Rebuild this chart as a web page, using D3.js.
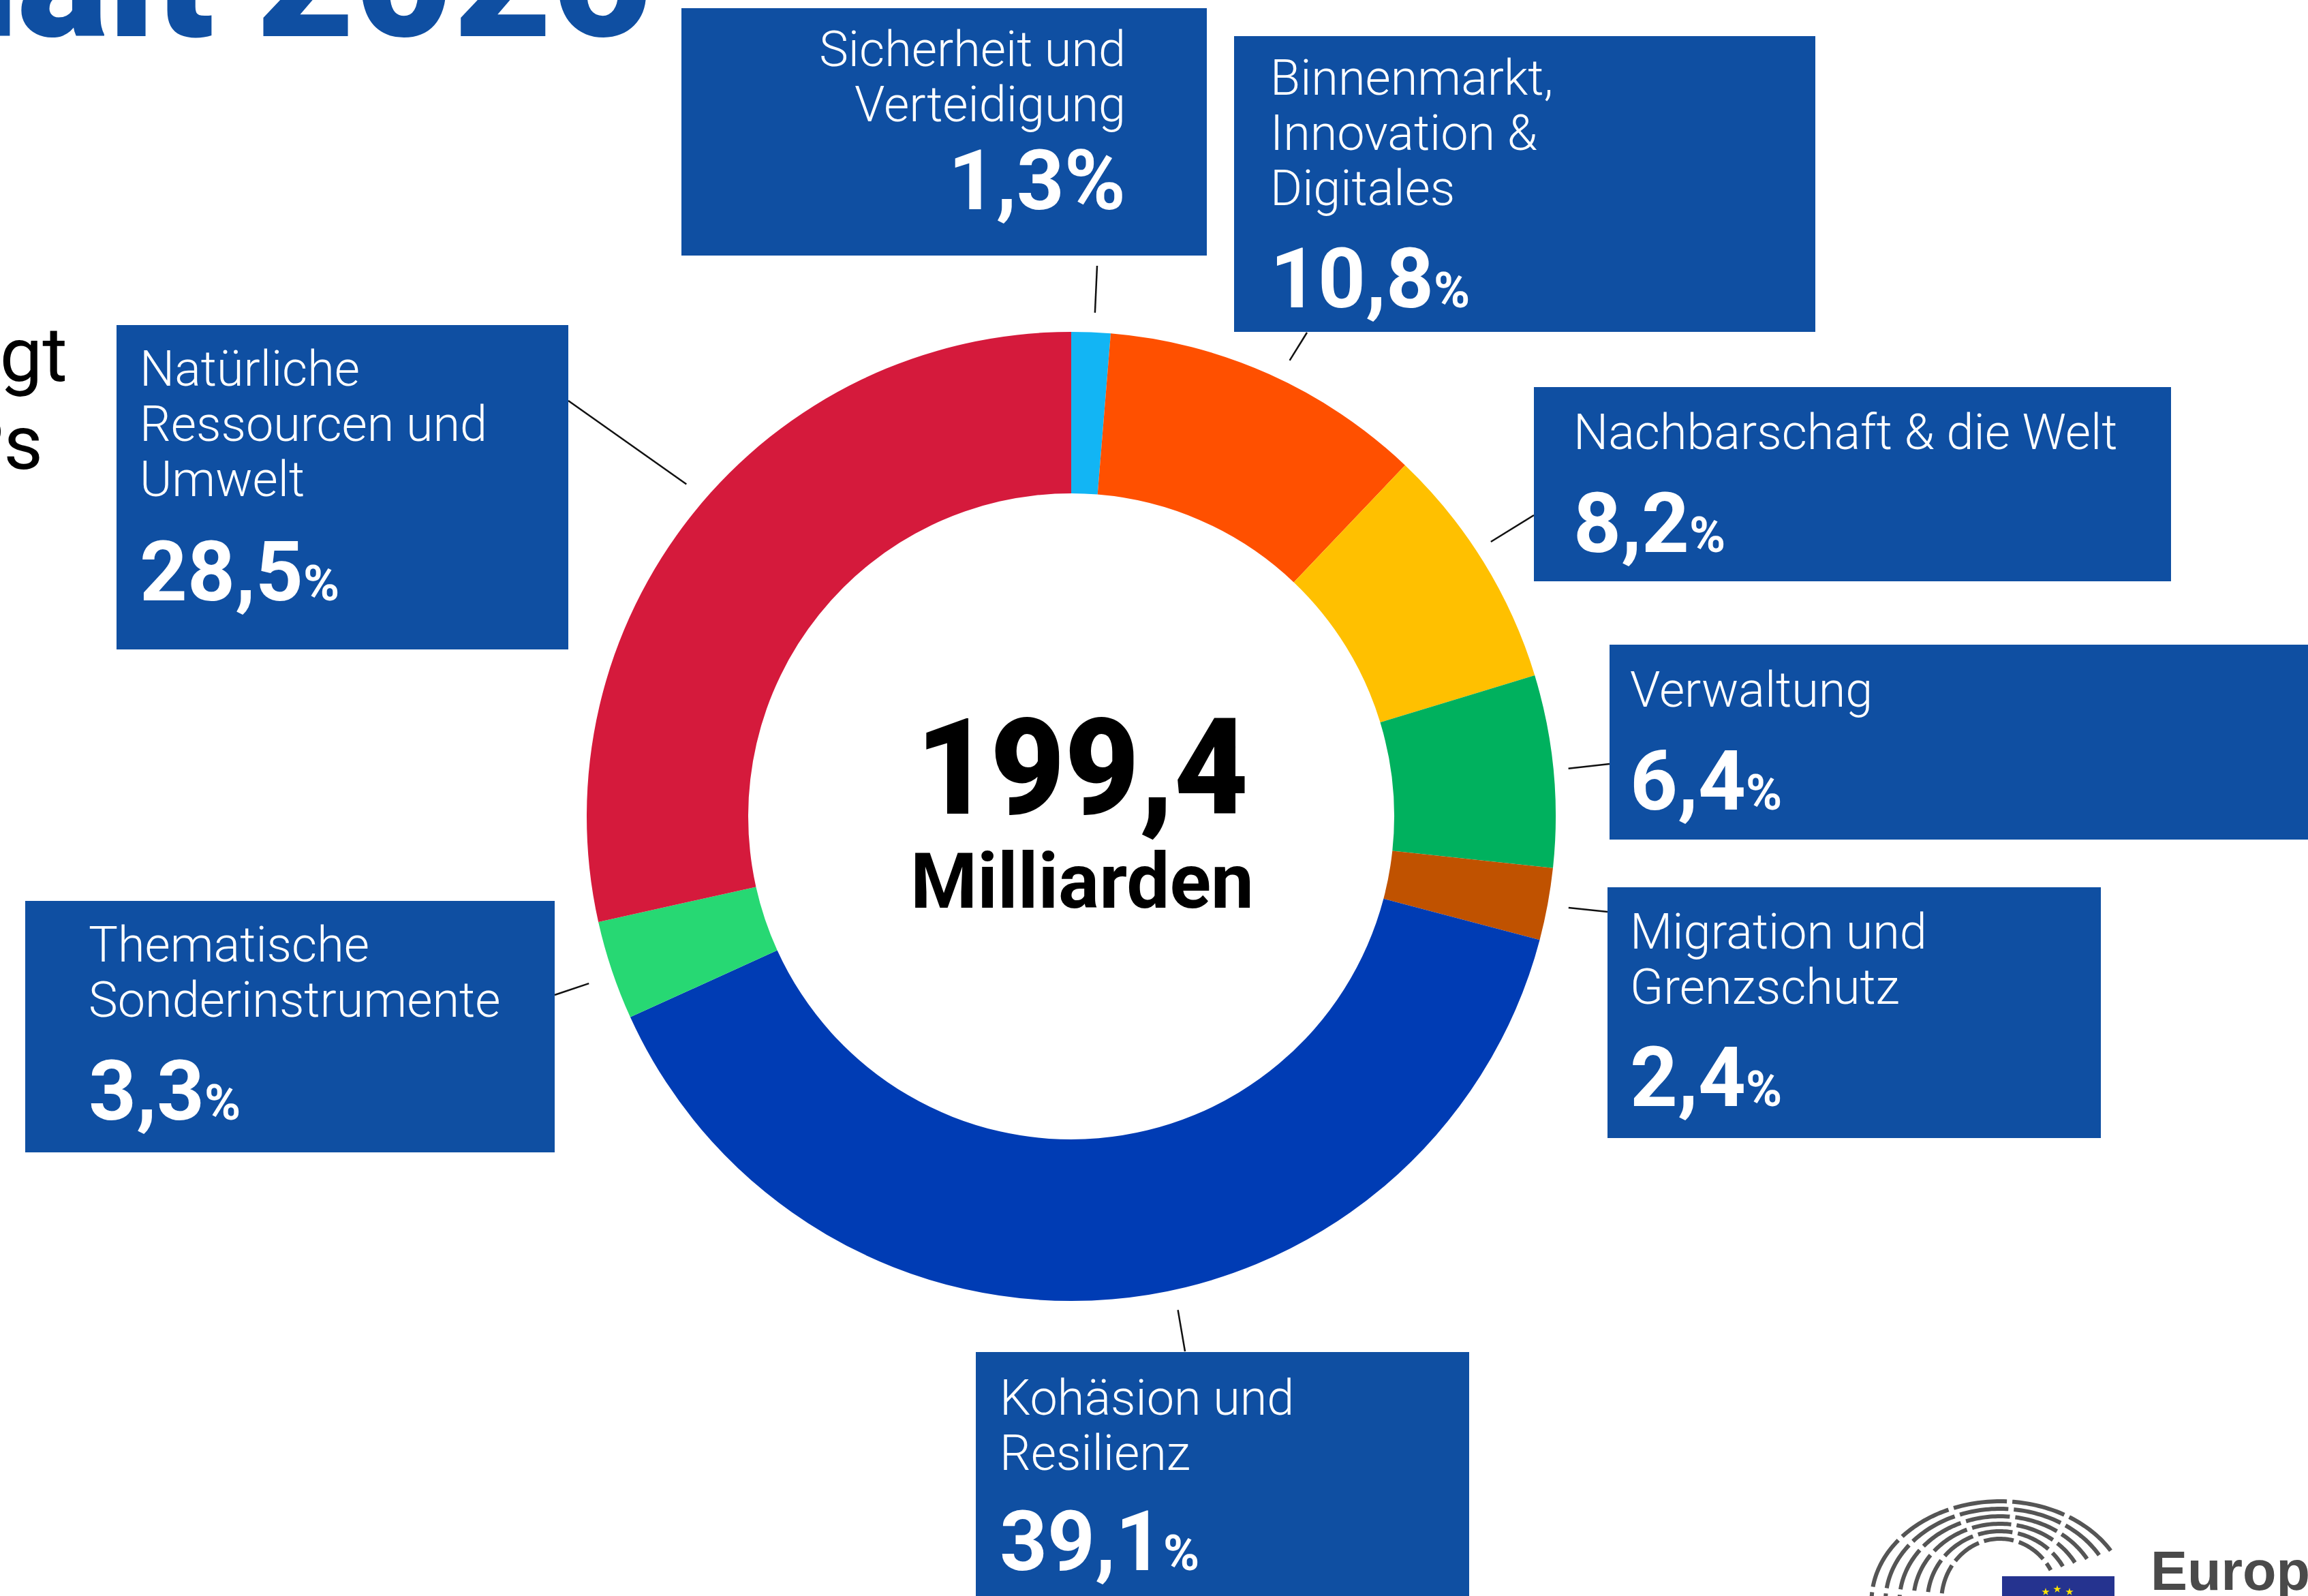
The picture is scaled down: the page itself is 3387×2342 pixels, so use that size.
<!DOCTYPE html>
<html>
<head>
<meta charset="utf-8">
<script src="https://cdn.jsdelivr.net/npm/d3@7"></script>
<style>
  html, body { margin: 0; padding: 0; background: #ffffff; }
  svg { display: block; }
</style>
</head>
<body>
<svg id="chart" width="3387" height="2342"></svg>
<script>
// ---------------- DATA ----------------
const categories = [
  "Sicherheit und Verteidigung",
  "Binnenmarkt, Innovation & Digitales",
  "Nachbarschaft & die Welt",
  "Verwaltung",
  "Migration und Grenzschutz",
  "Kohäsion und Resilienz",
  "Thematische Sonderinstrumente",
  "Natürliche Ressourcen und Umwelt"
];
const shares = [1.3, 10.8, 8.2, 6.4, 2.4, 39.1, 3.3, 28.5];
const labelLines = [
  ["Sicherheit und", "Verteidigung"],
  ["Binnenmarkt,", "Innovation &", "Digitales"],
  ["Nachbarschaft & die Welt"],
  ["Verwaltung"],
  ["Migration und", "Grenzschutz"],
  ["Kohäsion und", "Resilienz"],
  ["Thematische", "Sonderinstrumente"],
  ["Natürliche", "Ressourcen und", "Umwelt"]
];
const sliceColors = ["#12b5f4", "#ff5000", "#ffc000", "#00b15e", "#c05200", "#003cb4", "#27d873", "#d51a3c"];
const totalValue = 199.4;
const totalUnit = "Milliarden";
const titleText = "EU-Haushalt 2026";
const introLines = ["Der Haushalt beträgt", "rund 1 % des BIPs"];
const logoText = "Europäisches Parlament";

// ---------------- LAYOUT ----------------
const W = 3387, H = 2342;
const cx = 1572, cy = 1198;
const outerR = 711, innerR = 474;
const boxColor = "#0f4fa2";
const boxes = [
  {x: 1000, y: 12,   w: 771,  h: 363, tx: 1652, anchor: "end",   first: 85, gap: 129, bigPct: true},
  {x: 1811, y: 53,   w: 853,  h: 434, tx: 1864, anchor: "start", first: 86, gap: 150},
  {x: 2251, y: 568,  w: 935,  h: 285, tx: 2309, anchor: "start", first: 91, gap: 151},
  {x: 2362, y: 946,  w: 1030, h: 286, tx: 2392, anchor: "start", first: 91, gap: 151},
  {x: 2359, y: 1302, w: 724,  h: 368, tx: 2392, anchor: "start", first: 90, gap: 150},
  {x: 1432, y: 1984, w: 724,  h: 420, tx: 1467, anchor: "start", first: 92, gap: 147},
  {x: 37,   y: 1322, w: 777,  h: 369, tx: 130,  anchor: "start", first: 89, gap: 151},
  {x: 171,  y: 477,  w: 663,  h: 476, tx: 205,  anchor: "start", first: 89, gap: 153}
];
const leaders = [
  {a: 2.7,   r: 740, bx: 1610, by: 390},
  {a: 25.6,  r: 742, bx: 1918, by: 488},
  {a: 56.8,  r: 736, bx: 2251, by: 756},
  {a: 84.5,  r: 733, bx: 2362, by: 1121},
  {a: 100.4, r: 742, bx: 2359, by: 1338},
  {a: 167.8, r: 741, bx: 1739, by: 1983},
  {a: 250.9, r: 749, bx: 814,  by: 1460},
  {a: 310.8, r: 746, bx: 834,  by: 588}
];

const fmt = v => d3.format(".1f")(v).replace(".", ",");
const labelFont = "Roboto, 'Noto Sans', sans-serif";

const svg = d3.select("#chart");
svg.append("rect").attr("width", W).attr("height", H).attr("fill", "#ffffff");

// ---------------- TITLE (cropped at top) ----------------
svg.append("text")
  .attr("x", 955).attr("y", 53)
  .attr("text-anchor", "end")
  .attr("font-family", labelFont)
  .attr("font-weight", 900)
  .attr("font-size", 250)
  .attr("fill", boxColor)
  .text(titleText);

svg.append("g").selectAll("text").data(introLines).join("text")
  .attr("x", (d, i) => i === 0 ? 99 : 63)
  .attr("y", (d, i) => 559 + i * 129)
  .attr("text-anchor", "end")
  .attr("font-family", labelFont)
  .attr("font-weight", 400)
  .attr("font-size", 112)
  .attr("fill", "#000")
  .text(d => d);

// ---------------- DONUT ----------------
const pie = d3.pie().sort(null).value(d => d).startAngle(0).endAngle(2 * Math.PI);
const arc = d3.arc().innerRadius(innerR).outerRadius(outerR);
const arcs = pie(shares);

const g = svg.append("g").attr("transform", `translate(${cx},${cy})`);
g.selectAll("path").data(arcs).join("path")
  .attr("d", arc)
  .attr("fill", (d, i) => sliceColors[i]);

// center text
svg.append("text")
  .attr("x", 1588).attr("y", 1194)
  .attr("text-anchor", "middle")
  .attr("font-family", labelFont)
  .attr("font-weight", 900)
  .attr("font-size", 196)
  .attr("textLength", 488)
  .attr("lengthAdjust", "spacingAndGlyphs")
  .attr("fill", "#000")
  .text(fmt(totalValue));
svg.append("text")
  .attr("x", 1588).attr("y", 1332)
  .attr("text-anchor", "middle")
  .attr("font-family", labelFont)
  .attr("font-weight", 700)
  .attr("font-size", 114)
  .attr("textLength", 504)
  .attr("lengthAdjust", "spacingAndGlyphs")
  .attr("fill", "#000")
  .text(totalUnit);

// ---------------- LEADER LINES ----------------
svg.append("g").selectAll("line").data(leaders).join("line")
  .attr("x1", d => cx + d3.pointRadial(d.a * Math.PI / 180, d.r)[0])
  .attr("y1", d => cy + d3.pointRadial(d.a * Math.PI / 180, d.r)[1])
  .attr("x2", d => d.bx)
  .attr("y2", d => d.by)
  .attr("stroke", "#111")
  .attr("stroke-width", 2.5);

// ---------------- LABEL BOXES ----------------
const lab = svg.append("g");
categories.forEach((c, i) => {
  const b = boxes[i];
  const bg = lab.append("g");
  bg.append("rect")
    .attr("x", b.x).attr("y", b.y).attr("width", b.w).attr("height", b.h)
    .attr("fill", boxColor);
  const lines = labelLines[i];
  lines.forEach((ln, j) => {
    bg.append("text")
      .attr("x", b.tx)
      .attr("y", b.y + b.first + j * 81)
      .attr("text-anchor", b.anchor)
      .attr("font-family", labelFont)
      .attr("font-weight", 300)
      .attr("font-size", 72)
      .attr("fill", "#fff")
      .text(ln);
  });
  const ny = b.y + b.first + (lines.length - 1) * 81 + b.gap;
  const t = bg.append("text")
    .attr("x", b.tx).attr("y", ny)
    .attr("text-anchor", b.anchor)
    .attr("font-family", labelFont)
    .attr("font-weight", 700)
    .attr("font-size", 122)
    .attr("fill", "#fff");
  t.append("tspan").text(fmt(shares[i]));
  t.append("tspan").attr("font-size", b.bigPct ? 122 : 72).text("%");
});

// ---------------- LOGO (bottom right, cropped) ----------------
const logo = svg.append("g");
const lcx = 2935, lcy = 2350;
for (let k = 0; k < 6; k++) {
  const rx = 86 + k * 20.5, ry = 92 + k * 11;
  const pts = d3.range(0, 121).map(s => {
    const ang = (205 - s * (175 / 120)) * Math.PI / 180;
    return [lcx + rx * Math.cos(ang), lcy - ry * Math.sin(ang)];
  });
  logo.append("path")
    .attr("d", d3.line()(pts))
    .attr("fill", "none")
    .attr("stroke", "#555")
    .attr("stroke-width", 6)
    .attr("stroke-dasharray", `${44 + k * 7} 8`);
}
logo.append("rect").attr("x", 2938).attr("y", 2313).attr("width", 165).attr("height", 40).attr("fill", "#25338f");
const starPos = [[3002, 2336], [3019, 2332], [3037, 2336]];
logo.selectAll("path.star").data(starPos).join("path")
  .attr("class", "star")
  .attr("transform", d => `translate(${d[0]},${d[1]})`)
  .attr("d", d3.symbol(d3.symbolStar, 40))
  .attr("fill", "#ffe600");
logo.append("text")
  .attr("x", 3156).attr("y", 2333)
  .attr("font-family", "'Liberation Sans', Arial, sans-serif")
  .attr("font-weight", 700)
  .attr("font-size", 81)
  .attr("fill", "#4a4a4a")
  .text(logoText);
</script>
</body>
</html>
